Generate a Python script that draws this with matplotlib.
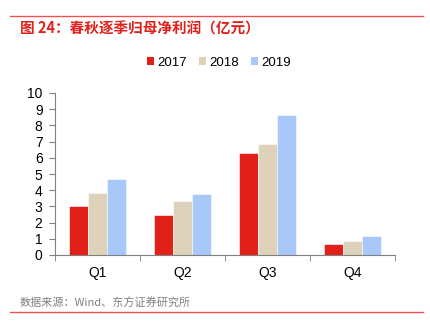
import matplotlib
matplotlib.use("Agg")
import matplotlib.pyplot as plt
import numpy as np
from matplotlib.lines import Line2D
from matplotlib.patches import Patch

plt.rcParams['font.family'] = ['Liberation Sans', 'Noto Sans CJK SC', 'DejaVu Sans']

categories = ["Q1", "Q2", "Q3", "Q4"]
series_names = ["2017", "2018", "2019"]
v2017 = [3.0, 2.47, 6.32, 0.68]
v2018 = [3.82, 3.35, 6.85, 0.88]
v2019 = [4.72, 3.78, 8.62, 1.18]
colors = ["#E2201A", "#DED3BA", "#A8C8FA"]
yticks = list(range(0, 11))

W, H = 430, 332
fig = plt.figure(figsize=(W/100, H/100), dpi=100)
ax = fig.add_axes([55/W, (H-255)/H, 340/W, (255-93)/H])

x = np.arange(len(categories))
bw = 0.224
for i, (vals, c) in enumerate(zip([v2017, v2018, v2019], colors)):
    ax.bar(x + (i-1)*bw, vals, width=bw, color=c, edgecolor='white', linewidth=0.4, zorder=2)

ax.set_xlim(-0.5, 3.5)
ax.set_ylim(0, 10)
ax.set_yticks(yticks)
ax.set_yticklabels([str(t) for t in yticks], fontsize=10)
ax.set_xticks(x)
ax.set_xticklabels(categories, fontsize=10)
ax.tick_params(axis='x', length=0, pad=8)
ax.set_xticks(np.arange(-0.5, 4.0, 1.0), minor=True)
ax.tick_params(axis='x', which='minor', length=4, color='#808080', direction='out')
ax.tick_params(axis='y', length=4, color='#808080', direction='out', pad=5)
for s in ['top', 'right']:
    ax.spines[s].set_visible(False)
for s in ['left', 'bottom']:
    ax.spines[s].set_color('#808080')
    ax.spines[s].set_linewidth(0.8)

handles = [Patch(facecolor=c, edgecolor='none') for c in colors]
fig.legend(handles, series_names, loc='center', bbox_to_anchor=(219/W, (H-63)/H),
           ncol=3, frameon=False, fontsize=9.5, handlelength=0.55, handleheight=0.55,
           handletextpad=0.25, columnspacing=0.9, borderpad=0)

# top and bottom red lines
fig.add_artist(Line2D([10/W, 423/W], [(H-16)/H]*2, color='#F05050', linewidth=1.0))
fig.add_artist(Line2D([10/W, 423/W], [(H-312)/H]*2, color='#F05050', linewidth=1.0))

fig.text(20/W, (H-29)/H, "图 24：春秋逐季归母净利润（亿元）", color='#E0201B', fontsize=10.5,
         fontweight='bold', va='center', ha='left', family=['Noto Sans CJK SC', 'DejaVu Sans'])
fig.text(20/W, (H-303)/H, "数据来源：Wind、东方证券研究所", color='#808080', fontsize=8,
         va='center', ha='left', family=['Noto Sans CJK SC', 'DejaVu Sans'])

fig.savefig("out.png", dpi=100)
